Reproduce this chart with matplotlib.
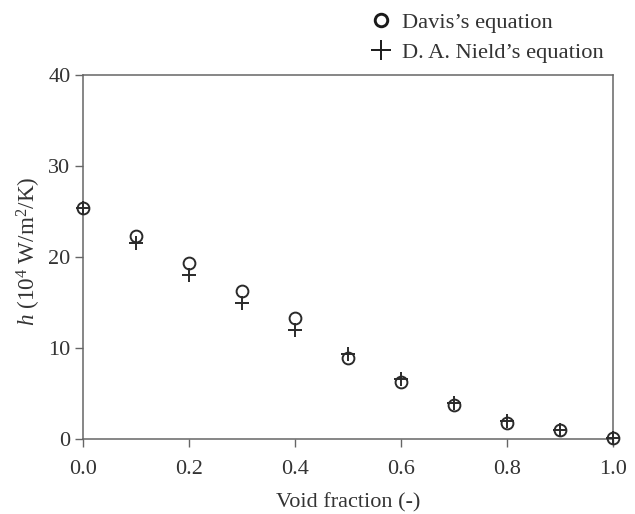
import matplotlib
matplotlib.use("Agg")
import matplotlib.pyplot as plt
from matplotlib.lines import Line2D

plt.rcParams['font.family'] = ['Liberation Serif', 'DejaVu Serif']
plt.rcParams['mathtext.fontset'] = 'custom'
plt.rcParams['mathtext.rm'] = 'Liberation Serif'
plt.rcParams['mathtext.it'] = 'Liberation Serif:italic'

void_fraction = [0.0, 0.1, 0.2, 0.3, 0.4, 0.5, 0.6, 0.7, 0.8, 0.9, 1.0]
davis = [25.4, 22.3, 19.3, 16.3, 13.3, 8.9, 6.3, 3.7, 1.8, 1.0, 0.1]
nield = [25.4, 21.5, 18.0, 14.9, 12.0, 9.3, 6.6, 4.0, 2.0, 1.0, 0.1]
x_ticks = [0.0, 0.2, 0.4, 0.6, 0.8, 1.0]
y_ticks = [0, 10, 20, 30, 40]
series_names = ["Davis\u2019s equation", "D. A. Nield\u2019s equation"]

ink = '#2a2a2a'
axis_grey = '#666666'
text_grey = '#333333'

fig = plt.figure(figsize=(6.35, 5.14), dpi=100)
ax = fig.add_axes([83 / 635, 1 - 439 / 514, 530 / 635, 364 / 514])

ax.plot(void_fraction, davis, linestyle='none', marker='o', ms=8.5,
        mfc='none', mec=ink, mew=1.4, clip_on=False, zorder=3)
ax.plot(void_fraction, nield, linestyle='none', marker='+', ms=10,
        mec=ink, mew=1.4, clip_on=False, zorder=3)

ax.set_xlim(0, 1.0)
ax.set_ylim(0, 40)
ax.set_xticks(x_ticks)
ax.set_xticklabels([f'{v:.1f}' for v in x_ticks])
ax.set_yticks(y_ticks)
ax.tick_params(direction='out', length=6, width=1, color=axis_grey,
               labelsize=16, labelcolor=text_grey)
ax.tick_params(axis='x', pad=9)
ax.tick_params(axis='y', pad=3)
for s in ax.spines.values():
    s.set_color(axis_grey)
    s.set_linewidth(1.1)

ax.set_xlabel('Void fraction (-)', fontsize=16, color=text_grey, labelpad=10)
ax.set_ylabel(r'$h$ (10$^4$ W/m$^2$/K)', fontsize=16.7, color=text_grey)
ax.yaxis.set_label_coords(-0.075, 0.516)

# legend keys drawn a little bolder than the data markers
handles = [
    Line2D([], [], linestyle='none', marker='o', ms=9, mfc='none', mec='#1a1a1a', mew=2.1),
    Line2D([], [], linestyle='none', marker='+', ms=14, mec='#1a1a1a', mew=1.4),
]
leg = fig.legend(handles, series_names,
                 loc='upper left', bbox_to_anchor=(358 / 635, 1.0), frameon=False,
                 fontsize=16.2, handlelength=0.9, handletextpad=0.5, labelspacing=0.4,
                 borderaxespad=0.15)
for t in leg.get_texts():
    t.set_color(text_grey)

fig.savefig('out.png', dpi=100)
